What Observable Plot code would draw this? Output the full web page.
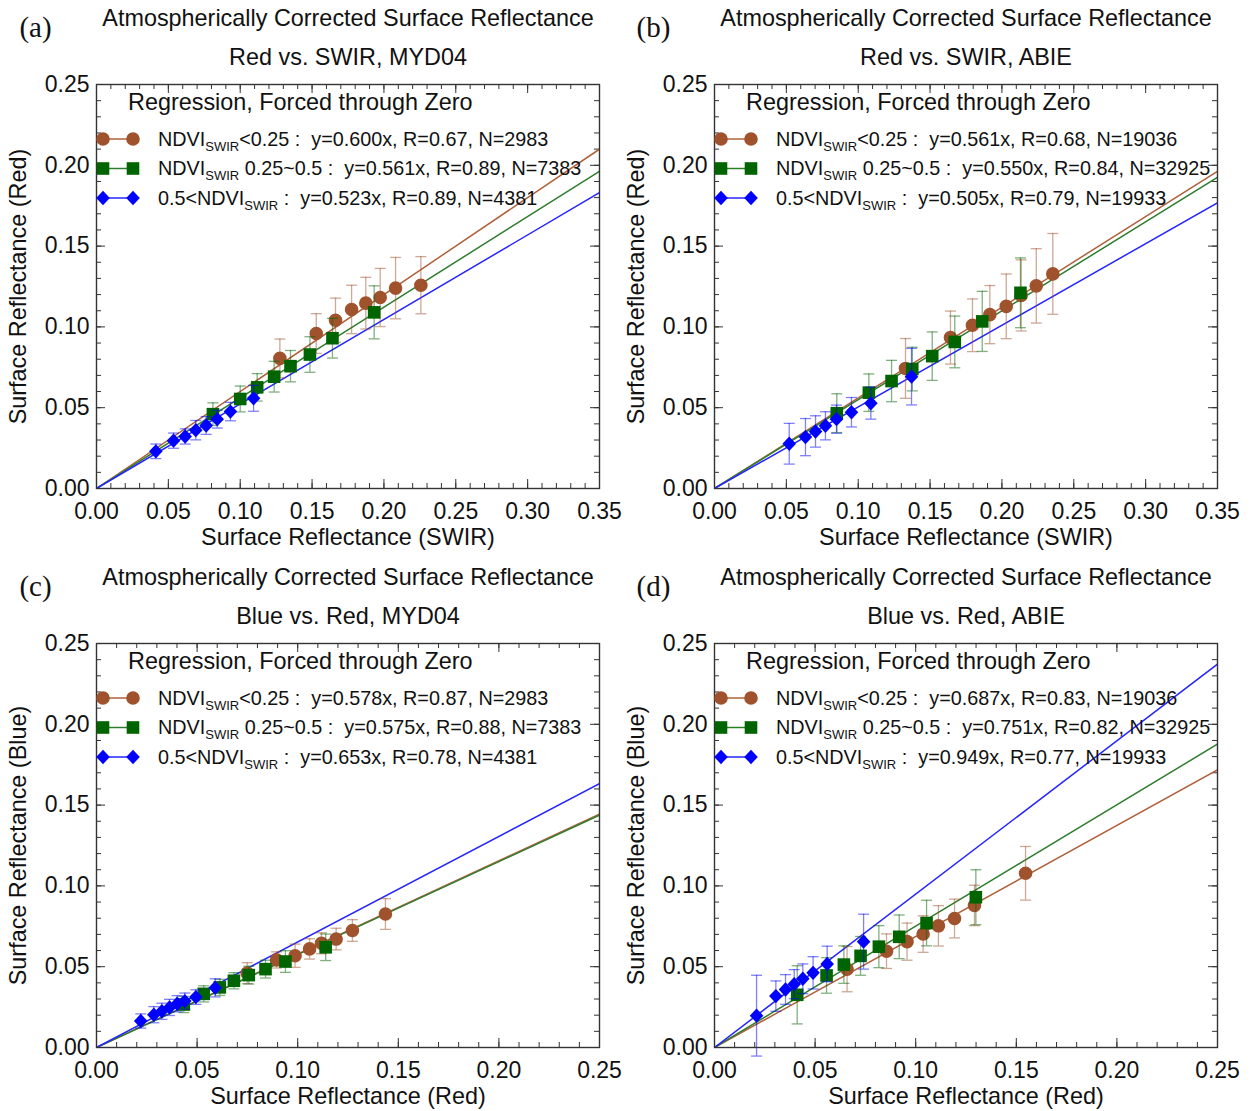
<!DOCTYPE html>
<html><head><meta charset="utf-8">
<script src="https://cdn.jsdelivr.net/npm/d3@7"></script>
<script src="https://cdn.jsdelivr.net/npm/@observablehq/plot@0.6"></script>
<style>
body{margin:0;background:#fff;}
#wrap{position:relative;width:1252px;height:1111px;overflow:hidden;background:#fff;}
.panel{position:absolute;}
</style></head><body><div id="wrap"></div>
<script>
const FONT = "'Liberation Sans', Arial, Helvetica, sans-serif";

// ---------- tick labels ----------
const xTicksSWIR = [0, 0.05, 0.10, 0.15, 0.20, 0.25, 0.30, 0.35];
const xTicksRed = [0, 0.05, 0.10, 0.15, 0.20, 0.25];
const yTicks = [0, 0.05, 0.10, 0.15, 0.20, 0.25];

// ---------- series ----------
const seriesNames = ["NDVI<0.25", "NDVI 0.25~0.5", "0.5<NDVI"];
const pointColors = ["#A0522D", "#006400", "#0000FF"];
const lineColors = ["#B0603A", "#2E7D2E", "#2525FF"];

// Panel (a): Red vs SWIR, MYD04
const aSlopes = [0.600, 0.561, 0.523];
const aBrownX = [0.1276, 0.1529, 0.1663, 0.1775, 0.1874, 0.1974, 0.2081, 0.2257];
const aBrownY = [0.0805, 0.0959, 0.1041, 0.1108, 0.1147, 0.1182, 0.1240, 0.1258];
const aBrownE = [0.012, 0.0123, 0.0137, 0.015, 0.016, 0.018, 0.019, 0.0177];
const aGreenX = [0.0810, 0.1000, 0.1118, 0.1236, 0.1350, 0.1485, 0.1642, 0.1932];
const aGreenY = [0.0460, 0.0554, 0.0626, 0.0692, 0.0757, 0.0829, 0.0930, 0.1090];
const aGreenE = [0.007, 0.008, 0.0085, 0.0095, 0.0097, 0.011, 0.0123, 0.0164];
const aBlueX = [0.0413, 0.0536, 0.0617, 0.0691, 0.0763, 0.0840, 0.0932, 0.1093];
const aBlueY = [0.0230, 0.0296, 0.0322, 0.0361, 0.0390, 0.0429, 0.0476, 0.0558];
const aBlueE = [0.0045, 0.0047, 0.0047, 0.006, 0.0055, 0.0055, 0.0057, 0.008];
const aLegend = ["<0.25 :  y=0.600x, R=0.67, N=2983", " 0.25~0.5 :  y=0.561x, R=0.89, N=7383", " :  y=0.523x, R=0.89, N=4381"];

// Panel (b): Red vs SWIR, ABIE
const bSlopes = [0.561, 0.550, 0.505];
const bBrownX = [0.1329, 0.1642, 0.1795, 0.1916, 0.2030, 0.2134, 0.2239, 0.2354];
const bBrownY = [0.0743, 0.0934, 0.1010, 0.1076, 0.1127, 0.1195, 0.1254, 0.1328];
const bBrownE = [0.0185, 0.0164, 0.0163, 0.018, 0.020, 0.022, 0.023, 0.025];
const bGreenX = [0.0851, 0.1074, 0.1232, 0.1376, 0.1515, 0.1672, 0.1863, 0.2129];
const bGreenY = [0.0466, 0.0593, 0.0665, 0.0739, 0.0819, 0.0907, 0.1034, 0.1211];
const bGreenE = [0.012, 0.0116, 0.0128, 0.0135, 0.015, 0.016, 0.0186, 0.0216];
const bBlueX = [0.0520, 0.0633, 0.0703, 0.0772, 0.0849, 0.0953, 0.1088, 0.1371];
const bBlueY = [0.0277, 0.0318, 0.0353, 0.0388, 0.0429, 0.0472, 0.0528, 0.0692];
const bBlueE = [0.0126, 0.0115, 0.0097, 0.0087, 0.0087, 0.0091, 0.0099, 0.0175];
const bLegend = ["<0.25 :  y=0.561x, R=0.68, N=19036", " 0.25~0.5 :  y=0.550x, R=0.84, N=32925", " :  y=0.505x, R=0.79, N=19933"];

// Panel (c): Blue vs Red, MYD04
const cSlopes = [0.578, 0.575, 0.653];
const cBrownX = [0.0749, 0.0895, 0.0987, 0.1059, 0.1118, 0.1191, 0.1272, 0.1436];
const cBrownY = [0.0460, 0.0542, 0.0568, 0.0610, 0.0645, 0.0671, 0.0724, 0.0826];
const cBrownE = [0.0065, 0.005, 0.0072, 0.0063, 0.0065, 0.0067, 0.0067, 0.0095];
const cGreenX = [0.0434, 0.0533, 0.0613, 0.0683, 0.0757, 0.0840, 0.0939, 0.1139];
const cGreenY = [0.0266, 0.0332, 0.0372, 0.0413, 0.0448, 0.0485, 0.0532, 0.0620];
const cGreenE = [0.005, 0.005, 0.005, 0.005, 0.0055, 0.0055, 0.0067, 0.0082];
const cBlueX = [0.0220, 0.0285, 0.0325, 0.0363, 0.0401, 0.0439, 0.0494, 0.0590];
const cBlueY = [0.0164, 0.0203, 0.0224, 0.0248, 0.0271, 0.0287, 0.0312, 0.0369];
const cBlueE = [0.0044, 0.005, 0.005, 0.005, 0.005, 0.005, 0.0045, 0.0056];
const cLegend = ["<0.25 :  y=0.578x, R=0.87, N=2983", " 0.25~0.5 :  y=0.575x, R=0.88, N=7383", " :  y=0.653x, R=0.78, N=4381"];

// Panel (d): Blue vs Red, ABIE
const dSlopes = [0.687, 0.751, 0.949];
const dBrownX = [0.0659, 0.0855, 0.0957, 0.1037, 0.1113, 0.1193, 0.1292, 0.1546];
const dBrownY = [0.0485, 0.0596, 0.0655, 0.0702, 0.0753, 0.0798, 0.0879, 0.1078];
const dBrownE = [0.014, 0.0107, 0.0115, 0.0113, 0.0125, 0.012, 0.0125, 0.0166];
const dGreenX = [0.0411, 0.0557, 0.0643, 0.0726, 0.0817, 0.0918, 0.1054, 0.1299];
const dGreenY = [0.0326, 0.0446, 0.0513, 0.0567, 0.0624, 0.0685, 0.0770, 0.0930];
const dGreenE = [0.018, 0.011, 0.0116, 0.012, 0.013, 0.0135, 0.0141, 0.017];
const dBlueX = [0.0209, 0.0305, 0.0353, 0.0396, 0.0439, 0.0490, 0.0560, 0.0741];
const dBlueY = [0.0197, 0.0318, 0.0359, 0.0392, 0.0425, 0.0462, 0.0517, 0.0655];
const dBlueE = [0.025, 0.0094, 0.0092, 0.009, 0.0092, 0.010, 0.011, 0.017];
const dLegend = ["<0.25 :  y=0.687x, R=0.83, N=19036", " 0.25~0.5 :  y=0.751x, R=0.82, N=32925", " :  y=0.949x, R=0.77, N=19933"];

// ---------- symbols ----------
const symCircle = {draw(ctx){ ctx.moveTo(6.8,0); ctx.arc(0,0,6.8,0,2*Math.PI); }};
const symSquare = {draw(ctx){ ctx.rect(-6.3,-6.3,12.6,12.6); }};
const symDiamond = {draw(ctx){ ctx.moveTo(0,-7.2); ctx.lineTo(6.8,0); ctx.lineTo(0,7.2); ctx.lineTo(-6.8,0); ctx.closePath(); }};
const symCap = {draw(ctx){ ctx.moveTo(-5.5,0); ctx.lineTo(5.5,0); }};
const symbols = [symCircle, symSquare, symDiamond];

function zipSeries(X, Y, E){ return X.map((x,i)=>({x, y:Y[i], e:E[i]})); }

const panels = [
  {label:"(a)", t2:"Red vs. SWIR, MYD04", xlab:"Surface Reflectance (SWIR)", ylab:"Surface Reflectance (Red)",
   xTicks:xTicksSWIR, slopes:aSlopes, legend:aLegend, left:0, top:0,
   series:[zipSeries(aBrownX,aBrownY,aBrownE), zipSeries(aGreenX,aGreenY,aGreenE), zipSeries(aBlueX,aBlueY,aBlueE)]},
  {label:"(b)", t2:"Red vs. SWIR, ABIE", xlab:"Surface Reflectance (SWIR)", ylab:"Surface Reflectance (Red)",
   xTicks:xTicksSWIR, slopes:bSlopes, legend:bLegend, left:618, top:0,
   series:[zipSeries(bBrownX,bBrownY,bBrownE), zipSeries(bGreenX,bGreenY,bGreenE), zipSeries(bBlueX,bBlueY,bBlueE)]},
  {label:"(c)", t2:"Blue vs. Red, MYD04", xlab:"Surface Reflectance (Red)", ylab:"Surface Reflectance (Blue)",
   xTicks:xTicksRed, slopes:cSlopes, legend:cLegend, left:0, top:559,
   series:[zipSeries(cBrownX,cBrownY,cBrownE), zipSeries(cGreenX,cGreenY,cGreenE), zipSeries(cBlueX,cBlueY,cBlueE)]},
  {label:"(d)", t2:"Blue vs. Red, ABIE", xlab:"Surface Reflectance (Red)", ylab:"Surface Reflectance (Blue)",
   xTicks:xTicksRed, slopes:dSlopes, legend:dLegend, left:618, top:559,
   series:[zipSeries(dBrownX,dBrownY,dBrownE), zipSeries(dGreenX,dGreenY,dGreenE), zipSeries(dBlueX,dBlueY,dBlueE)]}
];

const W = 626, H = 552, mL = 96, mR = 27, mT = 84, mB = 64;
const fw = W - mL - mR, fh = H - mT - mB;
const AX = "#333";

function makePanel(p){
  const xmax = p.xTicks[p.xTicks.length-1];
  const xMinor = d3.range(0, xmax + 1e-9, 0.01);
  const yMinor = d3.range(0, 0.25 + 1e-9, 0.01);
  const marks = [
    Plot.tickX(xMinor, {x:d=>d, insetTop: fh-5, stroke:AX}),
    Plot.tickX(xMinor, {x:d=>d, insetBottom: fh-5, stroke:AX}),
    Plot.tickX(p.xTicks, {x:d=>d, insetTop: fh-9, stroke:AX}),
    Plot.tickX(p.xTicks, {x:d=>d, insetBottom: fh-9, stroke:AX}),
    Plot.tickY(yMinor, {y:d=>d, insetRight: fw-5, stroke:AX}),
    Plot.tickY(yMinor, {y:d=>d, insetLeft: fw-5, stroke:AX}),
    Plot.tickY(yTicks, {y:d=>d, insetRight: fw-9, stroke:AX}),
    Plot.tickY(yTicks, {y:d=>d, insetLeft: fw-9, stroke:AX}),
  ];
  p.slopes.forEach((s,i)=>{
    marks.push(Plot.line([0, xmax], {x:d=>d, y:d=>s*d, stroke:lineColors[i], strokeWidth:1.5, clip:true}));
  });
  p.series.forEach((data,i)=>{
    marks.push(Plot.ruleX(data, {x:"x", y1:d=>d.y-d.e, y2:d=>d.y+d.e, stroke:pointColors[i], strokeOpacity:0.5, strokeWidth:1.3}));
    marks.push(Plot.dot(data, {x:"x", y:d=>d.y+d.e, symbol:symCap, fill:"none", stroke:pointColors[i], strokeOpacity:0.5, strokeWidth:1.3}));
    marks.push(Plot.dot(data, {x:"x", y:d=>d.y-d.e, symbol:symCap, fill:"none", stroke:pointColors[i], strokeOpacity:0.5, strokeWidth:1.3}));
    marks.push(Plot.dot(data, {x:"x", y:"y", symbol:symbols[i], fill:pointColors[i], stroke:"none"}));
  });
  marks.push(Plot.frame({stroke:AX, strokeWidth:1.4}));
  const tx = {text:d=>d, textAnchor:"middle", lineAnchor:"middle", fill:"#111"};
  marks.push(Plot.text(["Atmospherically Corrected Surface Reflectance"], {...tx, frameAnchor:"top", dy:-66, fontSize:23.4}));
  marks.push(Plot.text([p.t2], {...tx, frameAnchor:"top", dy:-27, fontSize:23.4}));
  marks.push(Plot.text([p.label], {...tx, frameAnchor:"top-left", dx:-61, dy:-57, fontSize:29, fontFamily:"'Liberation Serif', 'Times New Roman', serif"}));
  marks.push(Plot.text([p.xlab], {...tx, frameAnchor:"bottom", dy:49, fontSize:23.4}));
  marks.push(Plot.text([p.ylab], {...tx, frameAnchor:"left", dx:-78, rotate:-90, fontSize:23.4}));

  const svg = Plot.plot({
    width:W, height:H, marginLeft:mL, marginRight:mR, marginTop:mT, marginBottom:mB,
    style:{fontFamily:FONT, fontSize:"23px", color:"#111", background:"transparent", overflow:"visible"},
    x:{domain:[0,xmax], ticks:p.xTicks, tickFormat:d3.format(".2f"), tickSize:0, tickPadding:14, label:null},
    y:{domain:[0,0.25], ticks:yTicks, tickFormat:d3.format(".2f"), tickSize:0, tickPadding:7, label:null},
    marks
  });

  // legend
  const g = d3.select(svg).append("g").attr("font-family", FONT).attr("fill", "#111").attr("text-anchor", "start");
  g.append("text").attr("x", mL+32).attr("y", mT+18).attr("dy","0.35em").attr("font-size", 23.4)
    .text("Regression, Forced through Zero");
  const rowY = [mT+55, mT+84.5, mT+114];
  const symPaths = [
    d3.symbol(symCircle)(), d3.symbol(symSquare)(), d3.symbol(symDiamond)()
  ];
  rowY.forEach((yy,i)=>{
    g.append("line").attr("x1", mL+7).attr("x2", mL+37).attr("y1", yy).attr("y2", yy)
      .attr("stroke", lineColors[i]).attr("stroke-width", 1.5);
    [mL+7, mL+37].forEach(xx=>{
      g.append("path").attr("d", symPaths[i]).attr("transform", `translate(${xx},${yy})`).attr("fill", pointColors[i]);
    });
    const t = g.append("text").attr("x", mL+62).attr("y", yy).attr("dy","0.35em").attr("font-size", 19.8)
      .style("white-space","pre");
    t.append("tspan").text(i===2 ? "0.5<NDVI" : "NDVI");
    t.append("tspan").attr("font-size", 13).attr("dy", 5).text("SWIR");
    t.append("tspan").attr("dy", -5).text(p.legend[i]);
  });

  const div = document.createElement("div");
  div.className = "panel";
  div.style.left = p.left + "px";
  div.style.top = p.top + "px";
  div.appendChild(svg);
  document.getElementById("wrap").appendChild(div);
}
panels.forEach(makePanel);
</script>
</body></html>
